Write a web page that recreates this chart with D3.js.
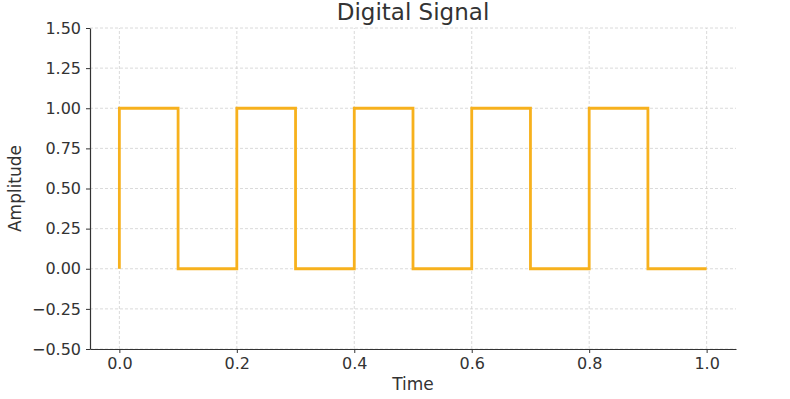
<!DOCTYPE html>
<html>
<head>
<meta charset="utf-8">
<script src="https://cdn.jsdelivr.net/npm/d3@7"></script>
<style>
  body { margin: 0; background: #fff; }
  text { font-family: "DejaVu Sans", sans-serif; fill: #333; }
</style>
</head>
<body>
<div id="chart"></div>
<script>
// Square wave, sampled at the switching instants (drawn as a post-step)
var time = [0, 0, 0.1, 0.2, 0.3, 0.4, 0.5, 0.6, 0.7, 0.8, 0.9, 1.0];
var amplitude = [0, 1, 0, 1, 0, 1, 0, 1, 0, 1, 0, 0];

var xTicks = [0, 0.2, 0.4, 0.6, 0.8, 1.0];
var yTicks = [-0.5, -0.25, 0, 0.25, 0.5, 0.75, 1.0, 1.25, 1.5];

var WIDTH = 790, HEIGHT = 399;
var margin = {top: 28, right: 54, bottom: 50, left: 90};

var svg = d3.select("#chart").append("svg")
    .attr("width", WIDTH)
    .attr("height", HEIGHT);

var x = d3.scaleLinear().domain([-0.05, 1.05]).range([margin.left, WIDTH - margin.right]);
var y = d3.scaleLinear().domain([-0.5, 1.5]).range([HEIGHT - margin.bottom, margin.top]);

// grid
svg.append("g").selectAll("line").data(xTicks).enter().append("line")
    .attr("x1", function(d) { return x(d); })
    .attr("x2", function(d) { return x(d); })
    .attr("y1", y(-0.5)).attr("y2", y(1.5))
    .style("stroke", "#d0d0d0").style("stroke-dasharray", "3,2").style("stroke-width", 0.8);

svg.append("g").selectAll("line").data(yTicks).enter().append("line")
    .attr("x1", x(-0.05)).attr("x2", x(1.05))
    .attr("y1", function(d) { return y(d); })
    .attr("y2", function(d) { return y(d); })
    .style("stroke", "#d0d0d0").style("stroke-dasharray", "3,2").style("stroke-width", 0.8);

// axes
var xAxis = svg.append("g")
    .attr("transform", "translate(0," + y(-0.5) + ")")
    .call(d3.axisBottom(x).tickValues(xTicks).tickFormat(d3.format(".1f")).tickSize(4).tickSizeOuter(0).tickPadding(5));

var yAxis = svg.append("g")
    .attr("transform", "translate(" + x(-0.05) + ",0)")
    .call(d3.axisLeft(y).tickValues(yTicks).tickFormat(function(d) { return d3.format(".2f")(d).replace("-", "\u2212"); }).tickSize(4).tickSizeOuter(0).tickPadding(5));

[xAxis, yAxis].forEach(function(a) {
  a.select(".domain").style("stroke", "#333").style("stroke-width", 1.2);
  a.selectAll(".tick line").style("stroke", "#333").style("stroke-width", 1);
  a.selectAll(".tick text").style("font-size", "16px").style("fill", "#333")
    .style("font-family", "DejaVu Sans, sans-serif");
});

// signal
var line = d3.line()
    .x(function(d, i) { return x(time[i]); })
    .y(function(d) { return y(d); })
    .curve(d3.curveStepAfter);

svg.append("path")
    .datum(amplitude)
    .attr("d", line)
    .style("fill", "none")
    .style("stroke", "#f7b11d")
    .style("stroke-width", 2.8);

// labels
svg.append("text")
    .attr("x", (x(-0.05) + x(1.05)) / 2).attr("y", 20)
    .attr("text-anchor", "middle")
    .style("font-size", "23px")
    .text("Digital Signal");

svg.append("text")
    .attr("x", (x(-0.05) + x(1.05)) / 2).attr("y", 390)
    .attr("text-anchor", "middle")
    .style("font-size", "17px")
    .text("Time");

svg.append("text")
    .attr("transform", "translate(21," + (y(-0.5) + y(1.5)) / 2 + ") rotate(-90)")
    .attr("text-anchor", "middle")
    .style("font-size", "17px")
    .text("Amplitude");
</script>
</body>
</html>
